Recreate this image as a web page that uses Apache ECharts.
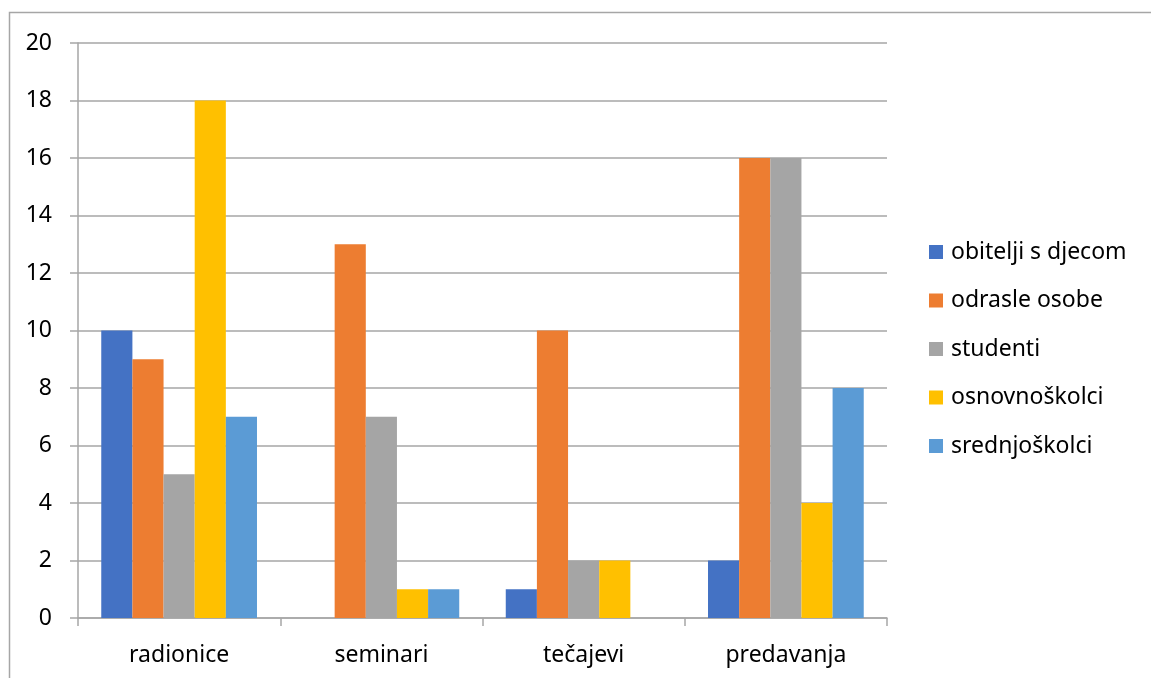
<!DOCTYPE html>
<html>
<head>
<meta charset="utf-8">
<script src="https://cdn.jsdelivr.net/npm/echarts@6/dist/echarts.min.js"></script>
<style>
html,body{margin:0;padding:0;background:#fff;}
#chart{width:1151px;height:678px;}
</style>
</head>
<body>
<div id="chart"></div>
<script>
var categories = ['radionice', 'seminari', 'tečajevi', 'predavanja'];
var seriesNames = ['obitelji s djecom', 'odrasle osobe', 'studenti', 'osnovnoškolci', 'srednjoškolci'];
var obitelji = [10, 0, 1, 2];
var odrasle = [9, 13, 10, 16];
var studenti = [5, 7, 2, 16];
var osnovno = [18, 1, 2, 4];
var srednjo = [7, 1, 0, 8];
var yTicks = [0, 2, 4, 6, 8, 10, 12, 14, 16, 18, 20];

var colors = ['#4472C4', '#ED7D31', '#A5A5A5', '#FFC000', '#5B9BD5'];
var values = [obitelji, odrasle, studenti, osnovno, srednjo];
var FONT = '"Noto Sans", "Open Sans", sans-serif';
var FS = 23;

var chart = echarts.init(document.getElementById('chart'), null, {renderer: 'canvas'});
chart.setOption({
  animation: false,
  backgroundColor: '#ffffff',
  color: colors,
  textStyle: {fontFamily: FONT},
  graphic: [{
    type: 'rect',
    shape: {x: 9.5, y: 12.5, width: 1200, height: 700},
    style: {fill: 'none', stroke: '#a6a6a6', lineWidth: 1.5},
    silent: true
  }],
  grid: {left: 78, right: 264, top: 43, bottom: 60, containLabel: false},
  legend: {
    orient: 'vertical',
    left: 929,
    top: 240,
    padding: 0,
    itemWidth: 14,
    itemHeight: 14,
    itemGap: 24.5,
    icon: 'rect',
    data: seriesNames,
    textStyle: {fontSize: FS, color: '#000', fontFamily: FONT, lineHeight: 24, padding: [0, 0, 0, 3]}
  },
  xAxis: {
    type: 'category',
    data: categories,
    axisLine: {show: true, lineStyle: {color: '#a6a6a6', width: 1.5}},
    axisTick: {show: true, length: 8, lineStyle: {color: '#a6a6a6', width: 1.5}},
    axisLabel: {fontSize: FS, color: '#000', margin: 26, fontFamily: FONT},
    splitLine: {show: false}
  },
  yAxis: {
    type: 'value',
    min: yTicks[0],
    max: yTicks[yTicks.length - 1],
    interval: 2,
    axisLine: {show: true, lineStyle: {color: '#a6a6a6', width: 1.5}},
    axisTick: {show: true, length: 8, lineStyle: {color: '#a6a6a6', width: 1.5}},
    axisLabel: {fontSize: FS, color: '#000', margin: 26, fontFamily: FONT},
    splitLine: {show: true, lineStyle: {color: '#a6a6a6', width: 1.5}}
  },
  series: seriesNames.map(function (name, i) {
    return {
      name: name,
      type: 'bar',
      data: values[i],
      barGap: '0%',
      barCategoryGap: '23%',
      itemStyle: {color: colors[i]}
    };
  })
});
</script>
</body>
</html>
